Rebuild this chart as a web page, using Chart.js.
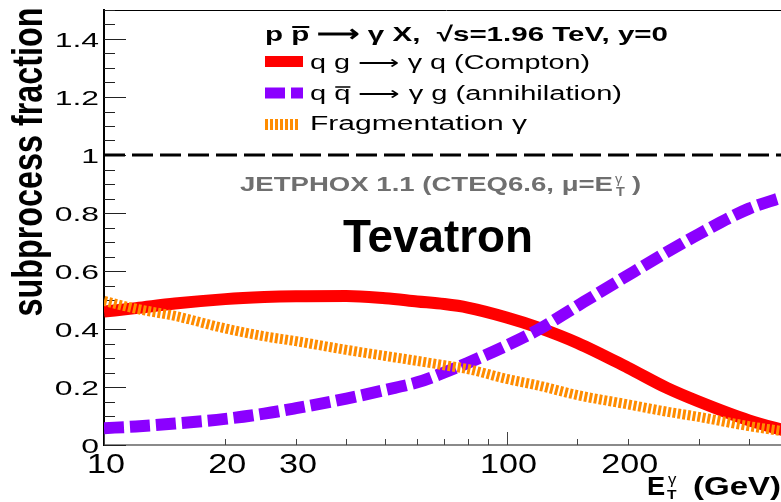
<!DOCTYPE html>
<html lang="en">
<head>
  <meta charset="UTF-8" />
  <title>Subprocess fractions - Tevatron</title>
  <script src="https://cdn.jsdelivr.net/npm/chart.js"></script>
  <style>
    html, body { margin: 0; padding: 0; background: #fff; overflow: hidden; }
  </style>
</head>
<body>
<canvas id="chart" width="800" height="502"></canvas>
<script>
  // photon E_T (GeV) and fraction of each subprocess
  const energies = [10, 12, 15, 20, 25, 30, 40, 50, 60, 70, 80, 100, 120, 150, 200, 250, 300, 400, 500];
  const compton = [0.46, 0.472, 0.488, 0.503, 0.51, 0.513, 0.514, 0.506, 0.495, 0.486, 0.474, 0.44, 0.405, 0.352, 0.267, 0.197, 0.15, 0.085, 0.047];
  const annihilation = [0.058, 0.064, 0.074, 0.09, 0.108, 0.127, 0.16, 0.19, 0.216, 0.25, 0.283, 0.343, 0.398, 0.48, 0.585, 0.665, 0.727, 0.815, 0.86];
  const fragmentation = [0.497, 0.47, 0.445, 0.402, 0.375, 0.358, 0.328, 0.307, 0.29, 0.275, 0.262, 0.228, 0.205, 0.172, 0.14, 0.115, 0.097, 0.065, 0.045];
  const unityX = [10, 500];
  const unityY = [1, 1];
  const xTickLabels = [10, 20, 30, 100, 200];
  const xDecades = [10, 100];

  const FONT = '"Liberation Sans", Arial, sans-serif';
  const toPoints = (xs, ys) => xs.map((x, i) => ({ x: x, y: ys[i] }));

  // draw text squeezed/stretched horizontally to a given width
  function putText(ctx, str, x, y, font, opts) {
    opts = opts || {};
    ctx.font = font;
    const w = ctx.measureText(str).width;
    const sx = opts.width ? opts.width / w : (opts.sx || 1);
    ctx.save();
    ctx.translate(x, y);
    if (opts.rotate) ctx.rotate(opts.rotate);
    ctx.scale(sx, 1);
    ctx.textAlign = opts.align || 'left';
    ctx.textBaseline = opts.baseline || 'alphabetic';
    ctx.fillStyle = opts.color || '#000';
    ctx.fillText(str, 0, 0);
    ctx.restore();
    return sx;
  }

  function seg(ctx, x0, y0, x1, y1, w, color) {
    ctx.save();
    ctx.strokeStyle = color || '#000';
    ctx.lineWidth = w;
    ctx.beginPath();
    ctx.moveTo(x0, y0);
    ctx.lineTo(x1, y1);
    ctx.stroke();
    ctx.restore();
  }

  const near = (v, step) => Math.abs(v / step - Math.round(v / step)) < 1e-6;

  // ROOT-style ticks pointing into the frame
  const tickPlugin = {
    id: 'innerTicks',
    beforeDatasetsDraw(chart) {
      const ctx = chart.ctx, a = chart.chartArea;
      const xs = chart.scales.x, ys = chart.scales.y;
      ys.ticks.forEach(t => {
        const py = Math.round(ys.getPixelForValue(t.value)) + 0.5;
        const len = near(t.value, 0.2) ? 22 : 11;
        seg(ctx, a.left, py, a.left + len, py, 1, '#222');
      });
      xs.ticks.forEach(t => {
        const px = Math.round(xs.getPixelForValue(t.value)) + 0.5;
        const len = xDecades.includes(t.value) ? 13 : 6;
        seg(ctx, px, a.bottom, px, a.bottom - len, 1, '#444');
      });
    }
  };

  const textPlugin = {
    id: 'rootText',
    afterDraw(chart) {
      const ctx = chart.ctx;
      const xs = chart.scales.x, ys = chart.scales.y;

      // y tick labels
      ys.ticks.filter(t => near(t.value, 0.2) && t.value < 1.5).forEach(t => {
        const lab = String(+t.value.toFixed(1));
        putText(ctx, lab, 99, ys.getPixelForValue(t.value) + 8, '21px ' + FONT, { align: 'right', sx: 1.52 });
      });
      // x tick labels
      xs.ticks.filter(t => xTickLabels.includes(t.value)).forEach(t => {
        putText(ctx, String(t.value), xs.getPixelForValue(t.value) + 2, 473, '28px ' + FONT, { align: 'center', sx: 1.22 });
      });

      // axis titles
      putText(ctx, 'subprocess fraction', 42, 162, 'bold 43px ' + FONT, { align: 'center', rotate: -Math.PI / 2, width: 309 });
      putText(ctx, 'E', 647, 495, 'bold 26px ' + FONT, { sx: 1.05 });
      putText(ctx, 'γ', 668, 484, '14px ' + FONT, { sx: 1.2 });
      putText(ctx, 'T', 667, 499, 'bold 13px ' + FONT, { sx: 1.2 });
      putText(ctx, '(GeV)', 693, 495, 'bold 26px ' + FONT, { sx: 1.27 });

      // legend header
      const head = 'p p ⟶ γ X,  √s=1.96 TeV, y=0';
      const hsx = putText(ctx, head, 265, 41, 'bold 21px ' + FONT, { width: 403 });
      ctx.font = 'bold 21px ' + FONT;
      const hp0 = 265 + ctx.measureText('p ').width * hsx;
      seg(ctx, hp0 + 1, 27, hp0 + ctx.measureText('p').width * hsx, 27, 2);

      // legend entries, swatches styled like the datasets
      const rows = [
        { ds: 2, text: 'q g ⟶ γ q (Compton)', base: 69, cy: 61.5, w: 280, x1: 303 },
        { ds: 1, text: 'q q ⟶ γ g (annihilation)', base: 100, cy: 93, w: 312, x1: 303 },
        { ds: 0, text: 'Fragmentation γ', base: 130, cy: 124.5, w: 217, x1: 300 }
      ];
      rows.forEach(r => {
        const d = chart.data.datasets[r.ds];
        ctx.save();
        ctx.strokeStyle = d.borderColor;
        ctx.lineWidth = 11;
        ctx.setLineDash(d.borderDash || []);
        ctx.beginPath();
        ctx.moveTo(265, r.cy);
        ctx.lineTo(r.x1, r.cy);
        ctx.stroke();
        ctx.restore();
        const sx = putText(ctx, r.text, 310, r.base, '20px ' + FONT, { width: r.w });
        if (r.ds === 1) {
          ctx.font = '20px ' + FONT;
          const q0 = 310 + ctx.measureText('q ').width * sx;
          seg(ctx, q0 + 1, r.base - 13, q0 + ctx.measureText('q').width * sx, r.base - 13, 1.5);
        }
      });

      // generator note
      const grey = '#6f6f6f';
      putText(ctx, 'JETPHOX 1.1 (CTEQ6.6, μ=E', 240, 191, 'bold 21px ' + FONT, { width: 373, color: grey });
      putText(ctx, 'γ', 615, 183, '12px ' + FONT, { color: grey, sx: 1.2 });
      putText(ctx, 'T', 616, 196, 'bold 12px ' + FONT, { color: grey, sx: 1.2 });
      putText(ctx, ')', 632, 191, 'bold 21px ' + FONT, { color: grey, sx: 1.3 });

      putText(ctx, 'Tevatron', 343, 252, 'bold 47px ' + FONT, { width: 190 });
    }
  };

  const line = (label, xs, ys, color, width, dash, order) => ({
    label: label,
    data: toPoints(xs, ys),
    borderColor: color,
    borderWidth: width,
    borderDash: dash,
    borderCapStyle: 'butt',
    pointRadius: 0,
    fill: false,
    cubicInterpolationMode: 'monotone',
    order: order
  });

  new Chart(document.getElementById('chart'), {
    type: 'line',
    data: {
      datasets: [
        line('Fragmentation γ', energies, fragmentation, '#ff8c00', 10, [3, 2], 1),
        line('q q̄ → γ g (annihilation)', energies, annihilation, '#8b00ff', 12, [20, 6], 2),
        line('q g → γ q (Compton)', energies, compton, '#ff0000', 12, [], 3),
        line('unity', unityX, unityY, '#000000', 3, [21, 7], 4)
      ]
    },
    options: {
      responsive: false,
      animation: false,
      devicePixelRatio: 1,
      layout: { padding: { top: 10, right: 12, left: 0, bottom: 0 } },
      plugins: { legend: { display: false }, tooltip: { enabled: false } },
      scales: {
        x: {
          type: 'logarithmic', min: 10, max: 500, position: 'bottom',
          afterFit: s => { s.height = 57; },
          ticks: { display: false },
          grid: { display: false },
          border: { color: '#8a8a8a', width: 2 }
        },
        xTop: {
          type: 'linear', min: 0, max: 1, position: 'top',
          afterFit: s => { s.height = 0; },
          ticks: { display: false },
          grid: { display: false, drawTicks: false },
          border: { color: '#000', width: 1 }
        },
        y: {
          min: 0, max: 1.5, position: 'left',
          afterFit: s => { s.width = 104; },
          ticks: { display: false, stepSize: 0.05 },
          grid: { display: false },
          border: { color: '#000', width: 2 }
        }
      }
    },
    plugins: [tickPlugin, textPlugin]
  });
</script>
</body>
</html>
